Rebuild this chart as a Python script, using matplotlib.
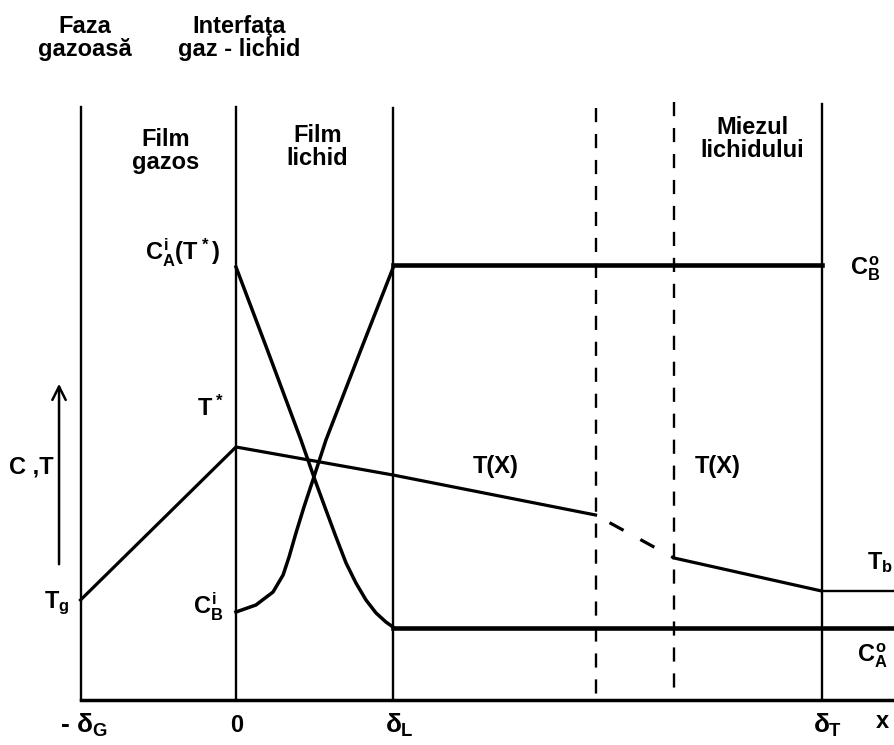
import matplotlib
matplotlib.use('Agg')
import matplotlib.pyplot as plt

plt.rcParams['font.family'] = ['Liberation Sans', 'DejaVu Sans']
plt.rcParams['font.weight'] = 'bold'
plt.rcParams['mathtext.fontset'] = 'custom'
plt.rcParams['mathtext.rm'] = 'Liberation Sans:bold'
plt.rcParams['mathtext.it'] = 'Liberation Sans:bold'
plt.rcParams['mathtext.bf'] = 'Liberation Sans:bold'

# pozitii pe axa x (unitati: delta_L = 1)
x_solid = [-0.99, 0.0, 1.0, 3.73]      # -dG, 0, dL, dT
x_dashed = [2.29, 2.79]
x_end = 4.19
line_top = [5.93, 5.93, 5.92, 5.96]
dashed_top = [5.92, 5.98]

# concentratia A in filmul lichid
ca_x = [0.0, 0.20, 0.414, 0.503, 0.573, 0.637, 0.701, 0.764, 0.828, 0.892, 0.955, 1.0]
ca_y = [4.33, 3.50, 2.60, 2.20, 1.90, 1.63, 1.37, 1.17, 1.00, 0.87, 0.78, 0.73]
ca_bulk = 0.72

# concentratia B in filmul lichid
cb_x = [0.0, 0.127, 0.236, 0.30, 0.338, 0.382, 0.433, 0.49, 0.573, 0.80, 1.0]
cb_y = [0.88, 0.95, 1.08, 1.25, 1.43, 1.67, 1.93, 2.20, 2.60, 3.52, 4.32]
cb_bulk = 4.35

# temperatura
t_x = [-0.99, 0.0, 1.0, 2.29]
t_y = [1.00, 2.53, 2.25, 1.85]
t_gap_x = [2.29, 2.79]
t_gap_y = [1.85, 1.42]
t_bulk_x = [2.79, 3.73, 4.19]
t_bulk_y = [1.42, 1.09, 1.09]

fig = plt.figure(figsize=(8.94, 7.45), dpi=100)
ax = fig.add_axes([0, 0, 1, 1])
ax.set_xlim(-1.503, 4.191)
ax.set_ylim(-0.45, 7.0)
ax.axis('off')

k = 'black'
for xv, top in zip(x_solid, line_top):
    ax.plot([xv, xv], [0, top], color=k, lw=1.7)
for xv, top in zip(x_dashed, dashed_top):
    ax.plot([xv, xv], [top, 0], color=k, lw=1.7, ls=(0, (6, 5)))
ax.plot([x_solid[0], x_end], [0, 0], color=k, lw=2.5)

ax.plot(ca_x, ca_y, color=k, lw=2.5, solid_joinstyle='round')
ax.plot([1.0, x_end], [ca_bulk, ca_bulk], color=k, lw=3.3)
ax.plot(cb_x, cb_y, color=k, lw=2.5, solid_joinstyle='round')
ax.plot([1.0, x_solid[3]], [cb_bulk, cb_bulk], color=k, lw=3.3)

ax.plot(t_x, t_y, color=k, lw=2.3)
ax.plot(t_gap_x, t_gap_y, color=k, lw=2.3, ls=(6, (5, 6)))
ax.plot(t_bulk_x[:2], t_bulk_y[:2], color=k, lw=2.3)
ax.plot(t_bulk_x[1:], t_bulk_y[1:], color=k, lw=1.7)

ax.annotate('', xy=(-1.127, 3.19), xytext=(-1.127, 1.33),
            arrowprops=dict(arrowstyle='->', lw=1.8, color=k, mutation_scale=24))

fs = 17
ax.text(-0.96, 6.62, 'Faza\ngazoasă', ha='center', va='center', fontsize=fs, linespacing=1.0)
ax.text(0.02, 6.62, 'Interfaţa\ngaz - lichid', ha='center', va='center', fontsize=fs, linespacing=1.0)
ax.text(-0.446, 5.49, 'Film\ngazos', ha='center', va='center', fontsize=fs, linespacing=1.0)
ax.text(0.52, 5.53, 'Film\nlichid', ha='center', va='center', fontsize=fs, linespacing=1.0)
ax.text(3.29, 5.61, 'Miezul\nlichidului', ha='center', va='center', fontsize=fs, linespacing=1.0)

ax.text(-0.10, 4.47, r'$C_A^i(T^*)$', ha='right', va='center', fontsize=fs)
ax.text(-0.07, 2.92, r'$T^*$', ha='right', va='center', fontsize=fs)
ax.text(-1.306, 2.33, 'C ,T', ha='center', va='center', fontsize=fs)
ax.text(-1.14, 0.97, r'$T_g$', ha='center', va='center', fontsize=fs)
ax.text(-0.18, 0.93, r'$C_B^i$', ha='center', va='center', fontsize=fs)
ax.text(1.656, 2.33, 'T(X)', ha='center', va='center', fontsize=fs)
ax.text(3.07, 2.33, 'T(X)', ha='center', va='center', fontsize=fs)
ax.text(4.01, 4.31, r'$C_B^o$', ha='center', va='center', fontsize=fs)
ax.text(4.10, 1.37, r'$T_b$', ha='center', va='center', fontsize=fs)
ax.text(4.05, 0.44, r'$C_A^o$', ha='center', va='center', fontsize=fs)

ax.text(-0.97, -0.25, r'- $δ_G$', ha='center', va='center', fontsize=fs + 2)
ax.text(0.006, -0.25, '0', ha='center', va='center', fontsize=fs)
ax.text(1.04, -0.25, r'$δ_L$', ha='center', va='center', fontsize=fs + 2)
ax.text(3.77, -0.25, r'$δ_T$', ha='center', va='center', fontsize=fs + 2)
ax.text(4.12, -0.22, 'x', ha='center', va='center', fontsize=fs)

fig.savefig('out.png', dpi=100)
